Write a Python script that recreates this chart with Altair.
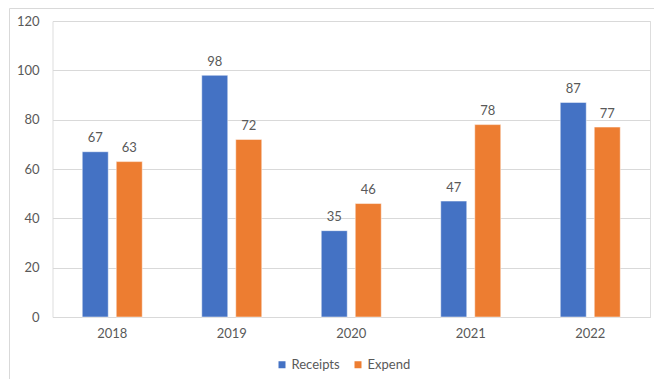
import altair as alt
import pandas as pd

years = ["2018", "2019", "2020", "2021", "2022"]
series = ["Receipts", "Expend"]
receipts = [67, 98, 35, 47, 87]
expend = [63, 72, 46, 78, 77]
colors = ["#4472C4", "#ED7D31"]
y_ticks = [0, 20, 40, 60, 80, 100, 120]

rows = []
for i, yr in enumerate(years):
    rows.append({"year": yr, "series": "Receipts", "value": receipts[i]})
    rows.append({"year": yr, "series": "Expend", "value": expend[i]})
df = pd.DataFrame(rows)

FONT = "Lato"
TXT = "#595959"
GRID = "#D9D9D9"

x_enc = alt.X(
    "year:N",
    sort=years,
    scale=alt.Scale(paddingInner=0, paddingOuter=0),
    axis=alt.Axis(
        title=None, labelAngle=0, ticks=False, domain=True, domainColor=GRID,
        domainWidth=1, labelPadding=10, labelFontSize=13, labelColor=TXT,
        labelFont=FONT, grid=False,
    ),
)
xo_enc = alt.XOffset(
    "series:N", sort=series,
    scale=alt.Scale(paddingInner=0.235, paddingOuter=0.875),
)
y_enc = alt.Y(
    "value:Q",
    scale=alt.Scale(domain=[0, 120], nice=False),
    axis=alt.Axis(
        title=None, values=y_ticks, ticks=False, domain=False, grid=True,
        gridColor=GRID, gridWidth=1, labelPadding=13.5, labelFontSize=13,
        labelColor=TXT, labelFont=FONT,
    ),
)

bars = alt.Chart(df).mark_bar(stroke="white", strokeWidth=0.5).encode(
    x=x_enc,
    xOffset=xo_enc,
    y=y_enc,
    color=alt.Color(
        "series:N",
        sort=series,
        scale=alt.Scale(domain=series, range=colors),
        legend=alt.Legend(
            title=None, orient="none", direction="horizontal",
            legendX=223, legendY=337, symbolType="square", symbolSize=49,
            symbolStrokeWidth=0, labelOffset=3, columnPadding=11,
            labelFontSize=13, labelColor=TXT, labelFont=FONT, padding=0,
        ),
    ),
)

labels = alt.Chart(df).mark_text(
    baseline="alphabetic", dy=-9.5, fontSize=13, color=TXT, font=FONT
).encode(
    x=alt.X("year:N", sort=years),
    xOffset=alt.XOffset("series:N", sort=series),
    y=alt.Y("value:Q"),
    text=alt.Text("value:Q"),
)

frame_df = pd.DataFrame({"k": [0]})
left_border = alt.Chart(frame_df).mark_rule(color=GRID, strokeWidth=1).encode(
    x=alt.value(-43), y=alt.value(-12.5), y2=alt.value(370)
)
top_border = alt.Chart(frame_df).mark_rule(color=GRID, strokeWidth=1).encode(
    x=alt.value(-43), x2=alt.value(602), y=alt.value(-12.5)
)

chart = alt.layer(left_border, top_border, bars, labels).properties(
    width=597.5,
    height=296,
    autosize=alt.AutoSizeParams(type="none"),
    padding={"left": 44.5, "top": 13, "right": 4, "bottom": 64},
).configure_view(stroke=None).configure(font=FONT, background="white")

chart.save("out.html", embed_options={"renderer": "svg", "actions": False})
